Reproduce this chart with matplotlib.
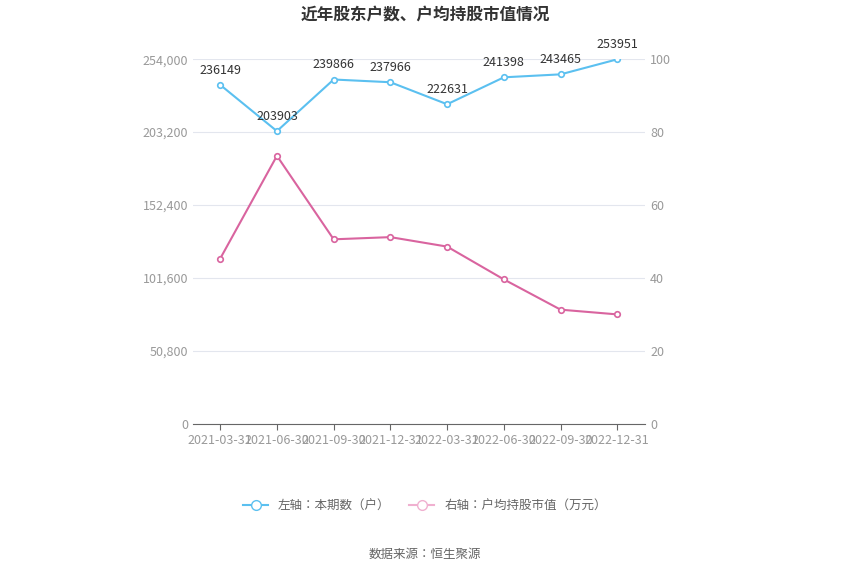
import matplotlib.pyplot as plt
from matplotlib import font_manager
from matplotlib.lines import Line2D

cjk = [f.name for f in font_manager.fontManager.ttflist if 'CJK' in f.name]
plt.rcParams['font.family'] = (['Noto Sans CJK SC'] if 'Noto Sans CJK SC' in cjk else cjk[:1]) + ['DejaVu Sans']

dates = ['2021-03-31', '2021-06-30', '2021-09-30', '2021-12-31',
         '2022-03-31', '2022-06-30', '2022-09-30', '2022-12-31']
holders = [236149, 203903, 239866, 237966, 222631, 241398, 243465, 253951]
avg_value = [45.3, 73.5, 50.6, 51.2, 48.6, 39.6, 31.3, 30.0]
left_ticks = [0, 50800, 101600, 152400, 203200, 254000]
right_ticks = [0, 20, 40, 60, 80, 100]

blue = '#5bc0f0'
pink = '#d9649f'

fig = plt.figure(figsize=(8.5, 5.75), dpi=100)
ax = fig.add_axes([0.227, 0.263, 0.532, 0.634])
ax2 = ax.twinx()
x = list(range(len(dates)))

ax.plot(x, holders, color=blue, lw=1.5, marker='o', ms=4, mfc='white', mew=1.2, zorder=3)
for xi, v in zip(x, holders):
    ax.annotate(str(v), (xi, v), xytext=(0, 6), textcoords='offset points',
                ha='center', va='bottom', fontsize=9, color='#333333')
ax2.plot(x, avg_value, color=pink, lw=1.5, marker='o', ms=4, mfc='white', mew=1.2, zorder=3)

ax.set_ylim(0, 254000)
ax2.set_ylim(0, 100)
ax.set_xlim(-0.48, 7.49)
ax.set_yticks(left_ticks)
ax.set_yticklabels([f'{t:,}' for t in left_ticks])
ax2.set_yticks(right_ticks)
ax.set_xticks(x)
ax.set_xticklabels(dates)
ax.grid(axis='y', color='#e3e6ee', lw=0.8)
ax.set_axisbelow(True)
for a in (ax, ax2):
    for s in a.spines.values():
        s.set_visible(False)
    a.tick_params(axis='y', length=0, labelsize=9, labelcolor='#999999')
ax.spines['bottom'].set_visible(True)
ax.spines['bottom'].set_color('#666666')
ax.tick_params(axis='x', labelsize=9, labelcolor='#999999', color='#666666', length=4)

fig.text(0.5, 0.975, '近年股东户数、户均持股市值情况', ha='center', va='center',
         fontsize=12, fontweight='bold', color='#333333')

handles = [Line2D([], [], color=blue, marker='o', mfc='white', ms=7, lw=1.5),
           Line2D([], [], color='#f0b0d0', marker='o', mfc='white', ms=7, lw=1.5)]
fig.legend(handles, ['左轴：本期数（户）', '右轴：户均持股市值（万元）'],
           loc='center', bbox_to_anchor=(0.5, 0.12), ncol=2, frameon=False,
           fontsize=9, labelcolor='#666666', handlelength=2, columnspacing=1.5)
fig.text(0.5, 0.035, '数据来源：恒生聚源', ha='center', va='center', fontsize=9, color='#666666')

fig.savefig('out.png', dpi=100)
